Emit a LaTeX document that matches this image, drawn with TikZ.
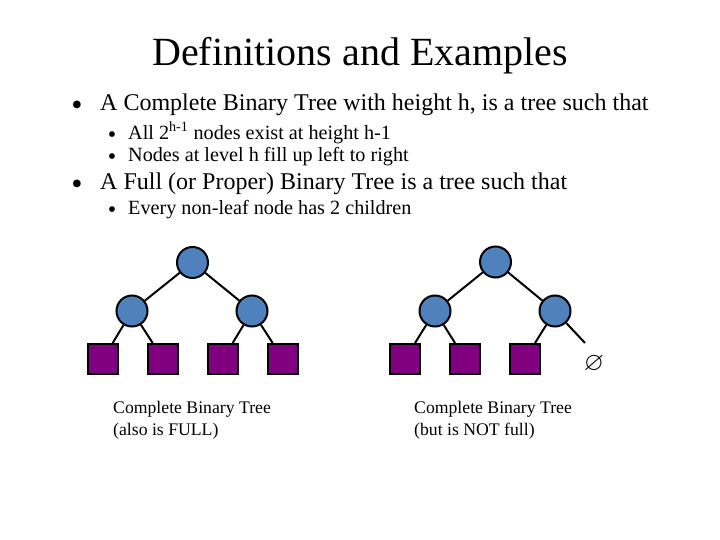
\documentclass[tikz,border=0pt]{standalone}
\usepackage{amssymb}
\usepackage{fontspec}
\setmainfont{Liberation Serif}
\definecolor{treeblue}{HTML}{4F81BD}
\definecolor{leafpurple}{HTML}{800080}
\tikzset{
  inode/.style={circle,draw=black,line width=2pt,fill=treeblue,minimum size=31pt,inner sep=0pt},
  leaf/.style={rectangle,draw=black,line width=2pt,fill=leafpurple,minimum size=30pt,inner sep=0pt},
  edge/.style={line width=2pt},
  txt/.style={anchor=base west,inner sep=0pt},
  titletxt/.style={anchor=base,inner sep=0pt,font=\fontsize{40}{48}\selectfont},
  mainb/.style={txt,font=\fontsize{24}{28}\selectfont},
  mainbul/.style={anchor=center,inner sep=0pt,font=\fontsize{32}{32}\selectfont},
  subb/.style={txt,font=\fontsize{20.2}{24}\selectfont},
  subbul/.style={anchor=center,inner sep=0pt,font=\fontsize{24}{24}\selectfont},
  captxt/.style={txt,font=\fontsize{17.7}{22}\selectfont}
}
\begin{document}
\begin{tikzpicture}[x=1pt,y=-1pt]
\useasboundingbox (0,0) rectangle (720,540);
\node[titletxt] (title) at (360,66) {Definitions and Examples};
\node[mainbul] (b1) at (77,108.5) {\textbullet};
\node[mainb] (t1) at (100,110.5) {A Complete Binary Tree with height h, is a tree such that};
\node[subbul] (b2) at (112,137.5) {\textbullet};
\node[subb] (t2) at (128,139.5) {All 2\textsuperscript{h-1} nodes exist at height h-1};
\node[subbul] (b3) at (112,159.5) {\textbullet};
\node[subb] (t3) at (128,161.5) {Nodes at level h fill up left to right};
\node[mainbul] (b4) at (77,187) {\textbullet};
\node[mainb] (t4) at (100,189.5) {A Full (or Proper) Binary Tree is a tree such that};
\node[subbul] (b5) at (112,212.5) {\textbullet};
\node[subb] (t5) at (128,214.5) {Every non-leaf node has 2 children};
% tree 1
\node[inode] (r1) at (192.5,262.5) {};
\node[inode] (l1) at (132,311) {};
\node[inode] (m1) at (252,311) {};
\node[leaf] (a1) at (103,359) {};
\node[leaf] (a2) at (163,359) {};
\node[leaf] (a3) at (223,359) {};
\node[leaf] (a4) at (283,359) {};
\draw[edge] (r1) -- (l1);
\draw[edge] (r1) -- (m1);
\draw[edge] (l1) -- (a1);
\draw[edge] (l1) -- (a2);
\draw[edge] (m1) -- (a3);
\draw[edge] (m1) -- (a4);
% tree 2
\node[inode] (r2) at (495.5,262) {};
\node[inode] (l2) at (435,311) {};
\node[inode] (m2) at (555,311) {};
\node[leaf] (c1) at (405,359) {};
\node[leaf] (c2) at (465,359) {};
\node[leaf] (c3) at (525,359) {};
\coordinate (nil) at (585,343);
\node[inner sep=0pt,font=\fontsize{26}{26}\selectfont] (empty) at (594,363.5) {$\varnothing$};
\draw[edge] (r2) -- (l2);
\draw[edge] (r2) -- (m2);
\draw[edge] (l2) -- (c1);
\draw[edge] (l2) -- (c2);
\draw[edge] (m2) -- (c3);
\draw[edge] (m2) -- (nil);
% captions
\node[captxt] (cap1a) at (113,413) {Complete Binary Tree};
\node[captxt] (cap1b) at (113,435) {(also is FULL)};
\node[captxt] (cap2a) at (414,413) {Complete Binary Tree};
\node[captxt] (cap2b) at (414,435) {(but is NOT full)};
\end{tikzpicture}
\end{document}
